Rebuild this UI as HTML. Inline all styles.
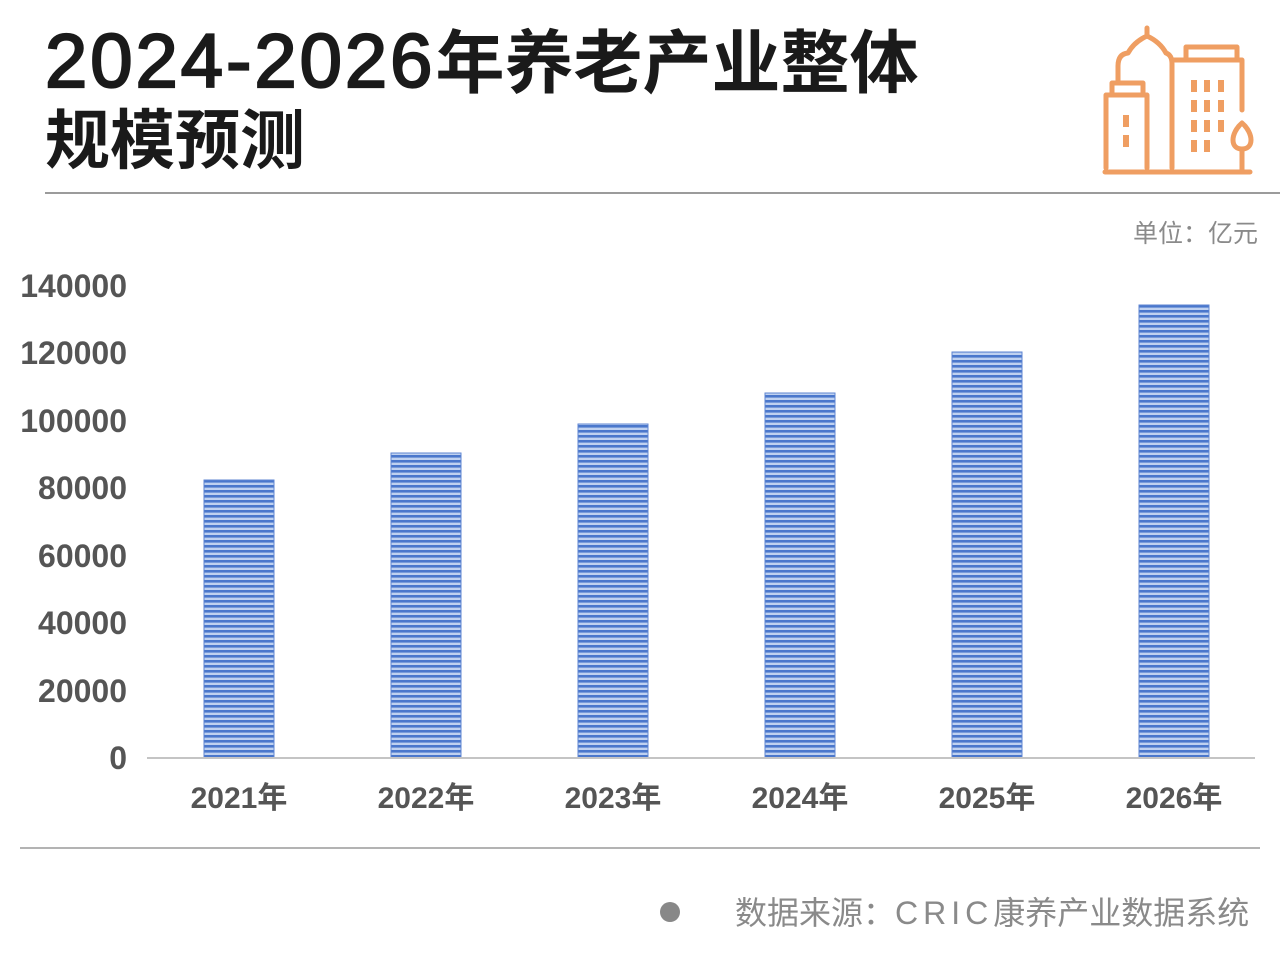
<!DOCTYPE html>
<html><head><meta charset="utf-8"><style>
html,body{margin:0;padding:0;background:#fff;}
svg{display:block;}
</style></head><body>
<svg width="1280" height="974" viewBox="0 0 1280 974" xmlns="http://www.w3.org/2000/svg">
<defs>
<pattern id="stripes" x="0" y="0" width="10" height="5" patternUnits="userSpaceOnUse">
<rect x="0" y="0" width="10" height="5" fill="#bfd1f0"/>
<rect x="0" y="0" width="10" height="2.6" fill="#4a77cc"/>
</pattern>
</defs>
<rect width="1280" height="974" fill="#fff"/>

<!-- Title -->
<text x="45" y="87" fill="#1a1a1a"><tspan font-family="Liberation Sans, sans-serif" font-weight="normal" font-size="76" letter-spacing="3" stroke="#1a1a1a" stroke-width="2.2">2024-2026</tspan><tspan font-family="Noto Sans CJK SC, sans-serif" font-weight="bold" font-size="69">年养老产业整体</tspan></text>
<text x="45" y="163" fill="#1a1a1a" font-family="Noto Sans CJK SC, sans-serif" font-weight="bold" font-size="65">规模预测</text>
<line x1="45" y1="193" x2="1280" y2="193" stroke="#7a7a7a" stroke-width="1.5"/>

<!-- Icon -->
<g stroke="#EF9E62" stroke-width="5" fill="none" stroke-linecap="round" stroke-linejoin="round">
<line x1="1105" y1="172" x2="1250" y2="172"/>
<path d="M1106,168 V95 H1147 V168"/>
<path d="M1112,95 V83 H1143 V95"/>
<path d="M1118,83 V66 Q1118,54 1128,53 Q1134,42 1147,36 Q1160,42 1166,53 Q1172,55 1172,64 V168"/>
<line x1="1147" y1="36" x2="1147" y2="28"/>
<path d="M1186,60 V47 H1237 V60"/>
<path d="M1172,60 H1242 V110"/>
<path d="M1242,123 C1236,128 1233,135 1233,140 C1233,146 1237,149 1242,149 C1247,149 1251,146 1251,140 C1251,135 1248,128 1242,123 Z"/>
<line x1="1242" y1="149" x2="1242" y2="170"/>
</g>
<g fill="#EF9E62">
<rect x="1191" y="80" width="6" height="12"/>
<rect x="1204" y="80" width="6" height="12"/>
<rect x="1218" y="80" width="6" height="12"/>
<rect x="1191" y="100" width="6" height="12"/>
<rect x="1204" y="100" width="6" height="12"/>
<rect x="1218" y="100" width="6" height="12"/>
<rect x="1191" y="120" width="6" height="12"/>
<rect x="1204" y="120" width="6" height="12"/>
<rect x="1218" y="120" width="6" height="12"/>
<rect x="1191" y="140" width="6" height="12"/>
<rect x="1204" y="140" width="6" height="12"/>
<rect x="1123" y="115" width="6" height="12"/>
<rect x="1123" y="135" width="6" height="12"/>
</g>

<!-- Unit -->
<text x="1133" y="242" fill="#8a8a8a" font-family="Liberation Sans, Noto Sans CJK SC, sans-serif" font-size="25">单位：亿元</text>

<!-- Y axis labels -->
<g fill="#555" font-family="Liberation Sans, sans-serif" font-weight="bold" font-size="32" text-anchor="end">
<text x="127" y="297">140000</text>
<text x="127" y="364">120000</text>
<text x="127" y="432">100000</text>
<text x="127" y="499">80000</text>
<text x="127" y="567">60000</text>
<text x="127" y="634">40000</text>
<text x="127" y="702">20000</text>
<text x="127" y="769">0</text>
</g>

<!-- Bars -->
<g fill="url(#stripes)" stroke="#5f86d2" stroke-width="1">
<rect x="204" y="480" width="70" height="278"/>
<rect x="391" y="453" width="70" height="305"/>
<rect x="578" y="424" width="70" height="334"/>
<rect x="765" y="393" width="70" height="365"/>
<rect x="952" y="352" width="70" height="406"/>
<rect x="1139" y="305" width="70" height="453"/>
</g>

<!-- Axis -->
<line x1="147" y1="758" x2="1255" y2="758" stroke="#c4c4c4" stroke-width="2"/>

<!-- X labels -->
<g fill="#555" font-size="30" text-anchor="middle">
<text x="239" y="808"><tspan font-family="Liberation Sans, sans-serif" font-weight="bold">2021</tspan><tspan font-family="Noto Sans CJK SC, sans-serif" font-weight="bold">年</tspan></text>
<text x="426" y="808"><tspan font-family="Liberation Sans, sans-serif" font-weight="bold">2022</tspan><tspan font-family="Noto Sans CJK SC, sans-serif" font-weight="bold">年</tspan></text>
<text x="613" y="808"><tspan font-family="Liberation Sans, sans-serif" font-weight="bold">2023</tspan><tspan font-family="Noto Sans CJK SC, sans-serif" font-weight="bold">年</tspan></text>
<text x="800" y="808"><tspan font-family="Liberation Sans, sans-serif" font-weight="bold">2024</tspan><tspan font-family="Noto Sans CJK SC, sans-serif" font-weight="bold">年</tspan></text>
<text x="987" y="808"><tspan font-family="Liberation Sans, sans-serif" font-weight="bold">2025</tspan><tspan font-family="Noto Sans CJK SC, sans-serif" font-weight="bold">年</tspan></text>
<text x="1174" y="808"><tspan font-family="Liberation Sans, sans-serif" font-weight="bold">2026</tspan><tspan font-family="Noto Sans CJK SC, sans-serif" font-weight="bold">年</tspan></text>
</g>

<!-- Bottom separator -->
<line x1="20" y1="848" x2="1260" y2="848" stroke="#9a9a9a" stroke-width="1.5"/>

<!-- Footer -->
<circle cx="670" cy="912" r="10" fill="#888"/>
<text x="735" y="924" fill="#8a8a8a" font-family="Liberation Sans, Noto Sans CJK SC, sans-serif" font-size="32">数据来源：<tspan letter-spacing="5">CRIC</tspan>康养产业数据系统</text>
</svg>
</body></html>
